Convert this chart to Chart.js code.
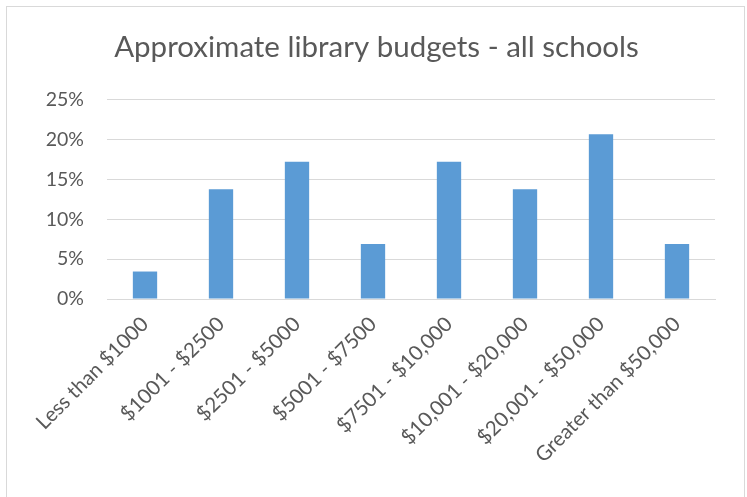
<!DOCTYPE html>
<html lang="en">
<head>
<meta charset="UTF-8">
<title>Library budgets</title>
<script src="https://cdn.jsdelivr.net/npm/chart.js"></script>
<style>
  body { margin: 0; background: #fff; }
  .frame { position: absolute; left: 6px; top: 6px; width: 737px; height: 500px; border: 1px solid #d9d9d9; }
  .wrap { position: absolute; left: 0; top: 0; width: 747px; height: 497px; }
</style>
</head>
<body>
<div class="frame"></div>
<div class="wrap"><canvas id="grafico" width="747" height="497"></canvas></div>

<script>
  const categorias = ['Less than $1000', '$1001 - $2500', '$2501 - $5000', '$5001 - $7500',
                      '$7501 - $10,000', '$10,001 - $20,000', '$20,001 - $50,000', 'Greater than $50,000'];
  const percentuais = [3.45, 13.79, 17.24, 6.90, 17.24, 13.79, 20.69, 6.90];
  const ticksY = [0, 5, 10, 15, 20, 25];

  const cinza = '#595959';

  new Chart(document.getElementById('grafico'), {
    type: 'bar',
    data: {
      labels: categorias,
      datasets: [{
        label: 'budget',
        data: percentuais,
        backgroundColor: '#5b9bd5',
        barPercentage: 0.32,
        categoryPercentage: 1
      }]
    },
    options: {
      responsive: false,
      animation: false,
      devicePixelRatio: 1,
      // left/right padding chosen so the title sits centred like the original
      layout: { padding: { left: 38, right: 32, top: 0, bottom: 0 } },
      plugins: {
        legend: { display: false },
        tooltip: { enabled: false },
        title: {
          display: true,
          text: 'Approximate library budgets - all schools',
          color: cinza,
          font: { family: 'Lato', size: 29.5, weight: 'normal' },
          padding: { top: 30, bottom: 34.5 }
        }
      },
      scales: {
        y: {
          min: 0,
          max: 25,
          afterBuildTicks: s => { s.ticks = ticksY.map(v => ({ value: v })); },
          afterFit: s => { s.width = 69; },
          border: { display: false },
          grid: { color: '#d9d9d9', lineWidth: 1, drawTicks: false },
          ticks: {
            padding: 23,
            color: cinza,
            font: { family: 'Lato', size: 19.5 },
            callback: v => v + '%'
          }
        },
        x: {
          afterFit: s => { s.height = 198; },
          border: { display: true, color: '#d9d9d9', width: 1 },
          grid: { display: false },
          ticks: {
            minRotation: 45,
            maxRotation: 45,
            autoSkip: false,
            padding: 5,
            color: cinza,
            font: { family: 'Lato', size: 20.5 }
          }
        }
      }
    }
  });
</script>
</body>
</html>
